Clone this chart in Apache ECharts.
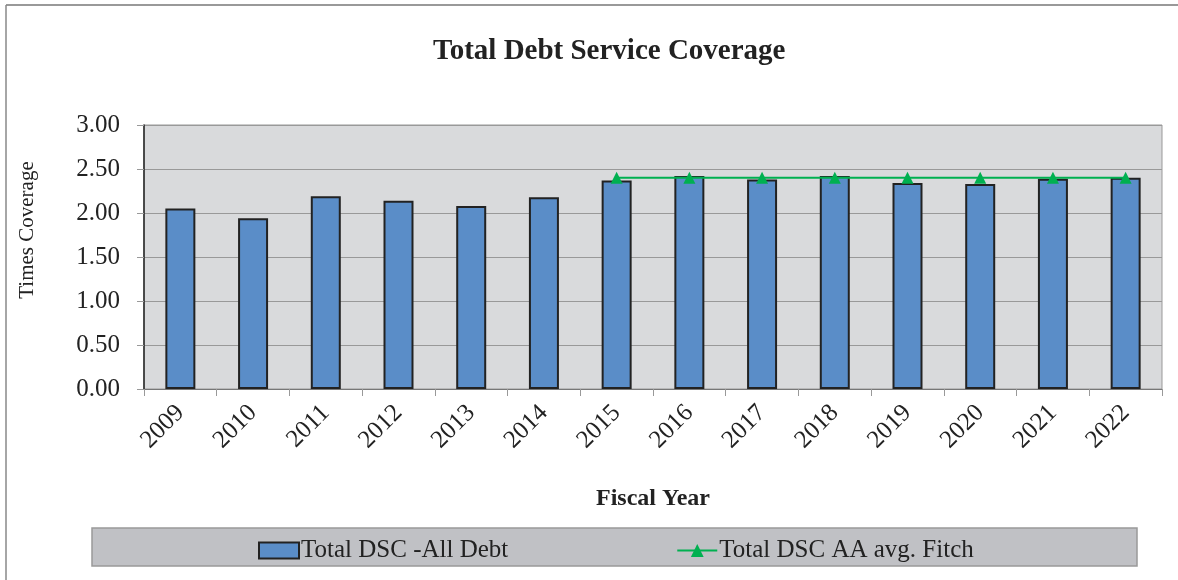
<!DOCTYPE html>
<html>
<head>
    <meta charset="utf-8">
    <title>Total Debt Service Coverage</title>
    <script src="https://cdn.jsdelivr.net/npm/echarts@6/dist/echarts.min.js"></script>
    <style>
        html, body { margin: 0; padding: 0; background: #fff; }
    </style>
</head>
<body>
    <div id="main" style="width: 1178px;height:580px;"></div>
    <script type="text/javascript">
        // data
        var years = ['2009', '2010', '2011', '2012', '2013', '2014', '2015',
                     '2016', '2017', '2018', '2019', '2020', '2021', '2022'];
        var dscAllDebt = [2.05, 1.94, 2.19, 2.14, 2.08, 2.18, 2.37,
                          2.42, 2.38, 2.42, 2.34, 2.33, 2.39, 2.40];
        var dscFitch = ['-', '-', '-', '-', '-', '-', 2.40,
                        2.40, 2.40, 2.40, 2.40, 2.40, 2.40, 2.40];

        var serif = 'Liberation Serif';
        var myChart = echarts.init(document.getElementById('main'));

        myChart.setOption({
            animation: false,
            backgroundColor: '#fff',
            textStyle: { fontFamily: serif, color: '#222' },
            title: {
                text: 'Total Debt Service Coverage',
                left: 428,
                top: 32,
                textStyle: { fontFamily: serif, fontSize: 29, fontWeight: 'bold', color: '#222' }
            },
            graphic: [
                // outer frame (top and left edges)
                { type: 'line', z: 0, shape: { x1: 6, y1: 5, x2: 1178, y2: 5 }, style: { stroke: '#999', lineWidth: 2 } },
                { type: 'line', z: 0, shape: { x1: 6, y1: 5, x2: 6, y2: 580 }, style: { stroke: '#888', lineWidth: 1.5 } },
                // legend box
                { type: 'rect', z: 0, shape: { x: 92, y: 528, width: 1045, height: 38 },
                  style: { fill: '#c0c1c5', stroke: '#999', lineWidth: 1.5 } }
            ],
            legend: {
                z: 10,
                left: 253,
                top: 533,
                itemGap: 168,
                itemWidth: 40,
                itemHeight: 16,
                textStyle: { fontFamily: serif, fontSize: 25, color: '#222', padding: [0, 0, 0, -3] },
                data: [
                    { name: 'Total DSC -All Debt', icon: 'rect' },
                    { name: 'Total DSC AA avg. Fitch' }
                ]
            },
            grid: {
                left: 144,
                right: 16,
                top: 125,
                bottom: 191,
                show: true,
                backgroundColor: '#d9dadc',
                borderColor: '#999',
                borderWidth: 1
            },
            xAxis: {
                type: 'category',
                data: years,
                name: 'Fiscal Year',
                nameLocation: 'middle',
                nameGap: 98,
                nameTextStyle: { fontFamily: serif, fontSize: 24, fontWeight: 'bold', color: '#222' },
                axisLine: { lineStyle: { color: '#777', width: 1 } },
                axisTick: { show: true, length: 7, lineStyle: { color: '#999' } },
                axisLabel: { rotate: 45, fontSize: 25, color: '#222', margin: 20 }
            },
            yAxis: {
                type: 'value',
                min: 0,
                max: 3,
                interval: 0.5,
                name: 'Times Coverage',
                nameLocation: 'middle',
                nameGap: 106,
                nameTextStyle: { fontFamily: serif, fontSize: 21, color: '#222', padding: [0, 0, 0, 54] },
                axisLine: { show: true, lineStyle: { color: '#222', width: 1.5 } },
                axisTick: { show: true, length: 7, lineStyle: { color: '#999' } },
                axisLabel: {
                    fontSize: 25, color: '#222', margin: 24,
                    formatter: function (v) { return v.toFixed(2); }
                },
                splitLine: { lineStyle: { color: '#999', width: 1 } }
            },
            series: [
                {
                    name: 'Total DSC -All Debt',
                    type: 'bar',
                    barWidth: 30,
                    data: dscAllDebt,
                    itemStyle: { color: '#5a8dc8', borderColor: '#222', borderWidth: 2 }
                },
                {
                    name: 'Total DSC AA avg. Fitch',
                    type: 'line',
                    data: dscFitch,
                    symbol: 'triangle',
                    symbolSize: 12,
                    lineStyle: { color: '#00b050', width: 2 },
                    itemStyle: { color: '#00b050' }
                }
            ]
        });
    </script>
</body>
</html>
